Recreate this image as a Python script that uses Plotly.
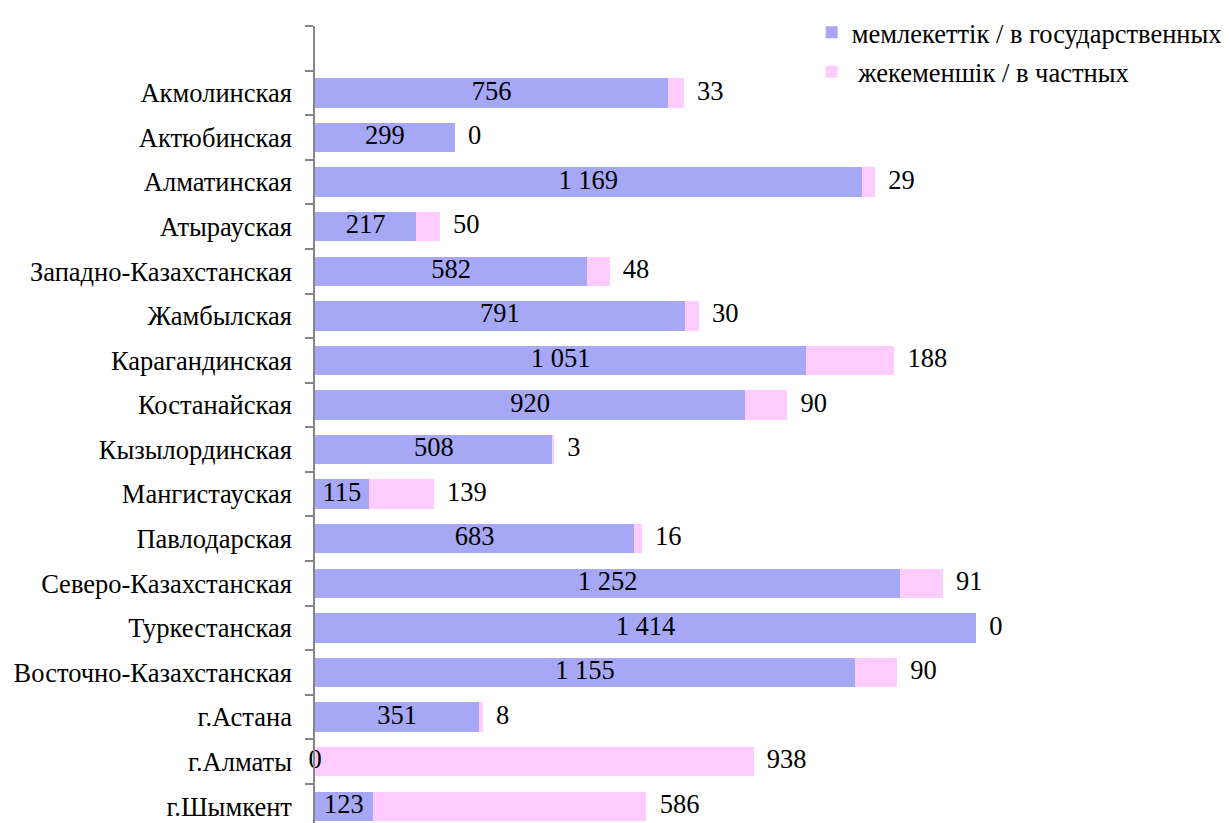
import plotly.graph_objects as go

regions = ["Акмолинская", "Актюбинская", "Алматинская", "Атырауская",
           "Западно-Казахстанская", "Жамбылская", "Карагандинская", "Костанайская",
           "Кызылординская", "Мангистауская", "Павлодарская", "Северо-Казахстанская",
           "Туркестанская", "Восточно-Казахстанская", "г.Астана", "г.Алматы", "г.Шымкент"]
state = [756, 299, 1169, 217, 582, 791, 1051, 920, 508, 115, 683, 1252, 1414, 1155, 351, 0, 123]
private = [33, 0, 29, 50, 48, 30, 188, 90, 3, 139, 16, 91, 0, 90, 8, 938, 586]
series_names = ["мемлекеттік / в государственных", "жекеменшік / в частных"]

C_STATE = "#A6A8F6"
C_PRIV = "#FFCCFF"
FONT = "Liberation Serif"
FS = 26.5

def fmt(v):
    return f"{v:,}".replace(",", " ")

fig = go.Figure()
fig.add_trace(go.Bar(y=regions, x=state, orientation="h", name=series_names[0],
                     marker=dict(color=C_STATE, line=dict(width=0)), legendgroup="a"))
fig.add_trace(go.Bar(y=regions, x=private, orientation="h", name=" " + series_names[1],
                     marker=dict(color=C_PRIV, line=dict(width=0)), legendgroup="b"))
# state labels centred in the state segment
fig.add_trace(go.Scatter(y=regions, x=[s / 2 for s in state], mode="text",
                         text=[fmt(s) for s in state], textposition="middle center",
                         textfont=dict(family=FONT, size=FS, color="black"),
                         showlegend=False, cliponaxis=False, hoverinfo="skip"))
# private labels just beyond the stacked end
fig.add_trace(go.Scatter(y=regions, x=[s + p for s, p in zip(state, private)], mode="text",
                         text=["  " + fmt(p) for p in private], textposition="middle right",
                         textfont=dict(family=FONT, size=FS, color="black"),
                         showlegend=False, cliponaxis=False, hoverinfo="skip"))

fig.update_layout(
    width=1221, height=815,
    barmode="stack", bargap=0.34,
    plot_bgcolor="white", paper_bgcolor="white",
    font=dict(family=FONT, size=FS, color="black"),
    margin=dict(l=307, r=166, t=6, b=0),
    showlegend=True,
    legend=dict(x=0.664, y=1.022, xanchor="left", yanchor="top",
                font=dict(family=FONT, size=FS, color="black"),
                tracegroupgap=2, itemwidth=30, bgcolor="rgba(0,0,0,0)"),
    xaxis=dict(range=[0, 1600], visible=False, showgrid=False, zeroline=False),
    yaxis=dict(categoryorder="array", categoryarray=[" "] + regions,
               range=[17.375, -0.5], autorange=False,
               showline=True, linecolor="#868686", linewidth=1.5,
               ticks="outside", tickson="boundaries", ticklen=8, tickcolor="#868686",
               tickwidth=1.5, ticklabelstandoff=16, showgrid=False, zeroline=False,
               tickfont=dict(family=FONT, size=FS, color="black")),
)

fig.write_html("out.html")
